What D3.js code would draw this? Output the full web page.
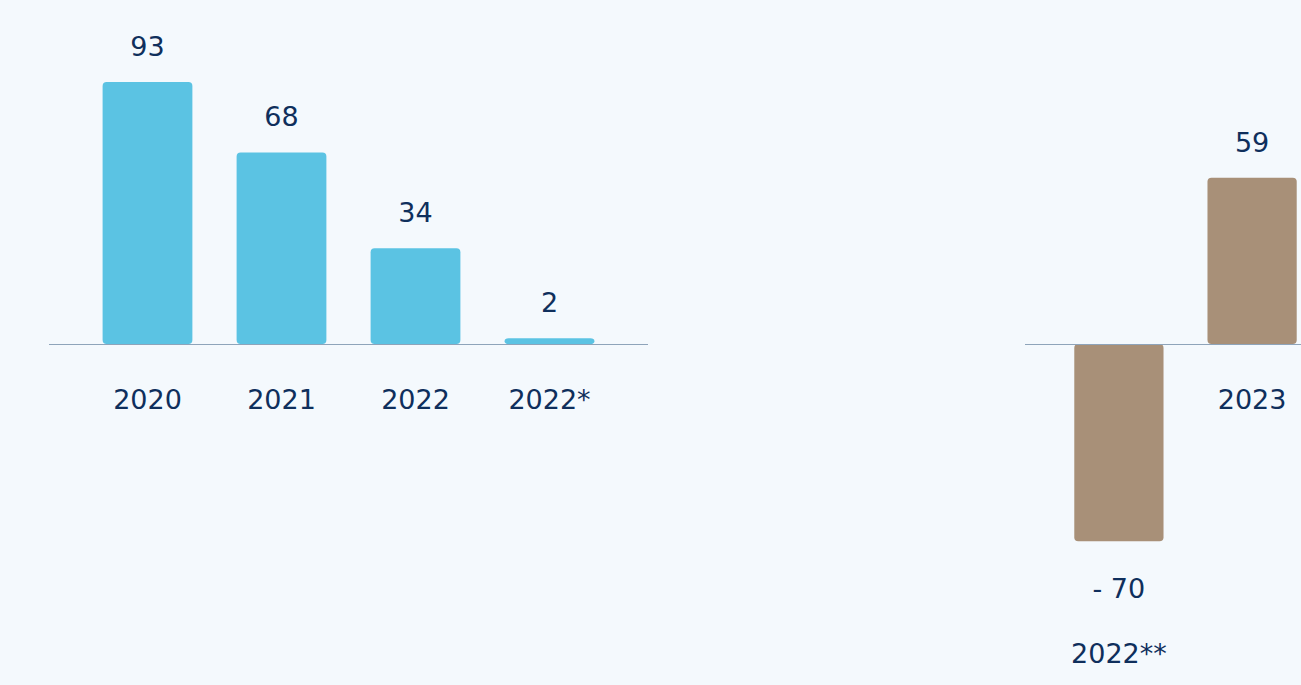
<!DOCTYPE html>
<html>
<head>
<meta charset="utf-8">
<script src="https://cdn.jsdelivr.net/npm/d3@7"></script>
<style>
  html, body { margin: 0; padding: 0; background: #f4f9fd; }
  svg { display: block; }
  text { font-family: "DejaVu Sans", "Noto Sans", sans-serif; fill: #0f2f5c; }
</style>
</head>
<body>
<svg id="chart" width="1301" height="685"></svg>
<script>
// Left panel: yearly results
const leftCategories = ["2020", "2021", "2022", "2022*"];
const leftValues = [93, 68, 34, 2];

// Right panel: comparison
const rightCategories = ["2022**", "2023"];
const rightValues = [-70, 59];

const W = 1301, H = 685;
const baseY = 344;
const svg = d3.select("#chart");

svg.append("rect").attr("width", W).attr("height", H).attr("fill", "#f4f9fd");

// shared vertical scale: value -> pixel
const y = d3.scaleLinear().domain([0, 93]).range([baseY, baseY - 262]);

const fmt = v => v < 0 ? "- " + Math.abs(v) : String(v);

function panel(cats, vals, range, lineX, color) {
  const x = d3.scaleBand().domain(cats).range(range)
    .paddingInner(0.33).paddingOuter(0.4);
  const g = svg.append("g");
  const data = cats.map((c, i) => ({ c, v: vals[i] }));

  g.selectAll("rect.bar").data(data).join("rect")
    .attr("class", "bar")
    .attr("x", d => x(d.c))
    .attr("width", x.bandwidth())
    .attr("y", d => Math.min(y(d.v), y(0)))
    .attr("height", d => Math.abs(y(d.v) - y(0)))
    .attr("rx", 4).attr("ry", 4)
    .attr("fill", color);

  g.append("line")
    .attr("x1", lineX[0]).attr("x2", lineX[1])
    .attr("y1", baseY + 0.5).attr("y2", baseY + 0.5)
    .attr("stroke", "#8ea4ba").attr("stroke-width", 1.2);

  // value labels
  g.selectAll("text.val").data(data).join("text")
    .attr("class", "val")
    .attr("x", d => x(d.c) + x.bandwidth() / 2)
    .attr("y", d => d.v >= 0 ? y(d.v) - 26 : y(d.v) + 57)
    .attr("text-anchor", "middle")
    .attr("font-size", 27)
    .text(d => fmt(d.v));

  // category labels
  g.selectAll("text.cat").data(data).join("text")
    .attr("class", "cat")
    .attr("x", d => x(d.c) + x.bandwidth() / 2)
    .attr("y", d => d.v >= 0 ? baseY + 65 : y(d.v) + 122)
    .attr("text-anchor", "middle")
    .attr("font-size", 27)
    .text(d => d.c);
}

panel(leftCategories, leftValues, [49, 648], [49, 648], "#5bc3e3");
panel(rightCategories, rightValues, [1021, 1350], [1025, 1301], "#a89078");
</script>
</body>
</html>
